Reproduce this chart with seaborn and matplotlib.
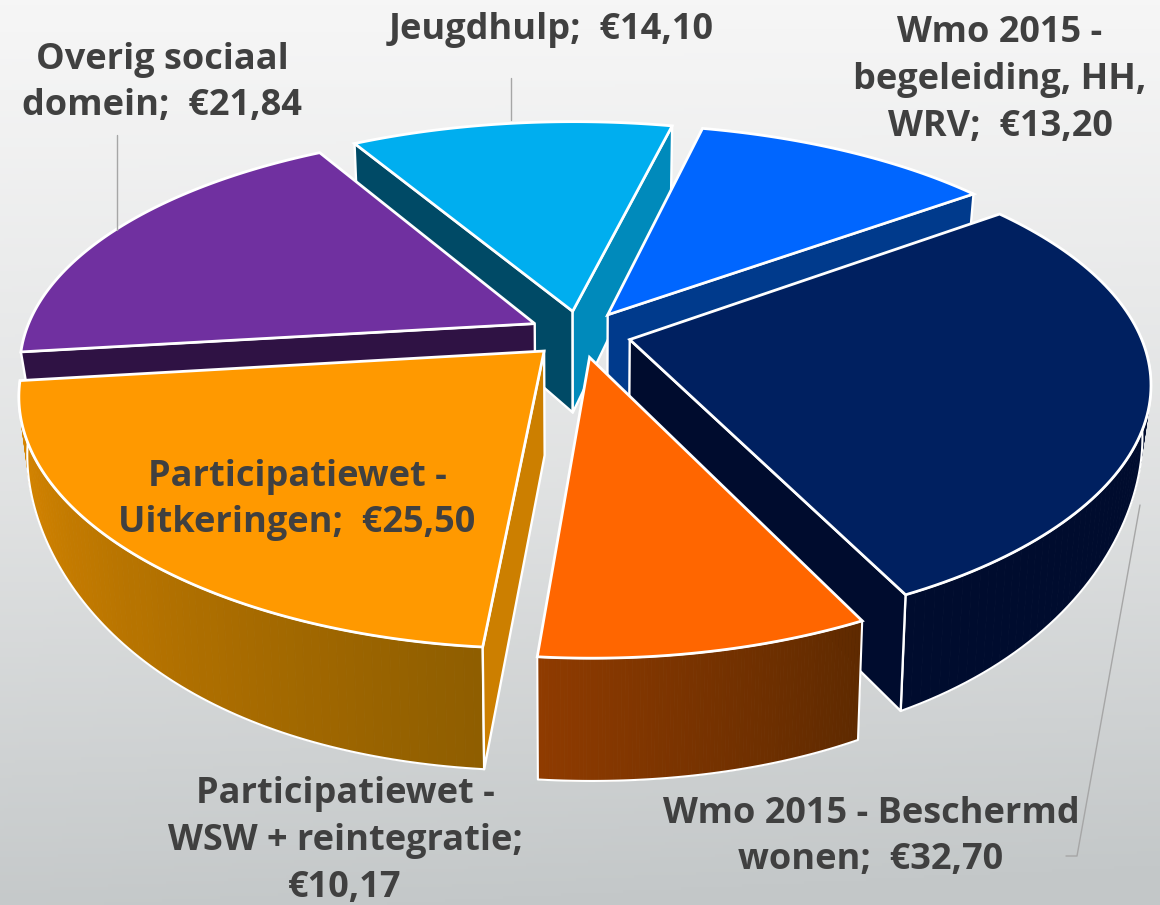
import numpy as np
import matplotlib
matplotlib.use("Agg")
import matplotlib.pyplot as plt
from matplotlib.patches import Polygon
import seaborn as sns

# waarden per onderdeel, met de klok mee vanaf Jeugdhulp
namen = ["Jeugdhulp", "Wmo begeleiding", "Beschermd wonen", "WSW", "Uitkeringen", "Overig"]
waarden = [14.10, 13.20, 32.70, 10.17, 25.50, 21.84]
label_teksten = [
    "Jeugdhulp;  €{}",
    "Wmo 2015 -\nbegeleiding, HH,\nWRV;  €{}",
    "Wmo 2015 - Beschermd\nwonen;  €{}",
    "Participatiewet -\nWSW + reintegratie;\n€{}",
    "Participatiewet -\nUitkeringen;  €{}",
    "Overig sociaal\ndomein;  €{}",
]
label_x = [551, 1000, 871, 345, 297, 162]
label_y = [30, 80, 837, 841, 500, 83]

kleur_boven = ["#00AEEF", "#0066FF", "#002060", "#FF6600", "#FF9900", "#7030A0"]
kleur_wand_start = ["#004A66", "#003A8C", "#000C2E", "#8F3B00", "#CC7F00", "#2F1244"]
kleur_wand_eind = ["#008ABB", "#003A8C", "#000C2E", "#5F2A00", "#CC7F00", "#2F1244"]
kleur_rand_links = ["#008ABB", "#003A8C", "#000C2E", "#8F3B00", "#E08A00", "#2F1244"]
kleur_rand_rechts = ["#004A66", "#003A8C", "#000C2E", "#5F2A00", "#8F5E00", "#2F1244"]

# achter naar voor tekenen
volgorde = [0, 1, 5, 2, 4, 3]

# projectie van de schuine taart
START = 120.0
CX, CY, R = 580.0, 334.0, 510.0
KANTEL, PERSP, PERSP_X = 0.458, 0.19, 0.17
EXPLODE = 0.10
WIT = "#FFFFFF"
TEKST = "#404040"


def projecteer(x, y):
    return CX + R * x / (1 + PERSP_X * y), CY - R * KANTEL * y / (1 + PERSP * y)


def boven(x, y):
    return np.column_stack(projecteer(x, y))


def onder(x, y):
    px, py = projecteer(x, y)
    dikte = 103 - 18 * y - 40 * x ** 4
    return np.column_stack((CX + (px - CX) * 0.985, py + dikte))


def wand(ax, x, y, kleur):
    hoeken = np.vstack((boven(x, y), onder(x, y)[::-1]))
    ax.add_patch(Polygon(hoeken, closed=True, facecolor=kleur, edgecolor=WIT, lw=1.7, joinstyle="round"))


sns.set_theme(style="white")
plt.rcParams["font.family"] = ["Open Sans", "DejaVu Sans"]

fig = plt.figure(figsize=(11.6, 9.05), dpi=100)
ax = fig.add_axes([0, 0, 1, 1])

# achtergrond: licht boven, grijs onder, rechts iets donkerder
yy, xx = np.mgrid[0:1:300j, 0:1:300j]
grijs = np.interp(yy, [0, 0.15, 0.55, 1], [1.0, 0.9, 0.58, 0.05]) - 0.08 * xx * yy
achtergrond = sns.blend_palette(["#C3C7C8", "#F6F6F6"], as_cmap=True)
ax.imshow(grijs, cmap=achtergrond, vmin=0, vmax=1, extent=(0, 1160, 905, 0), aspect="auto", zorder=0)

hoeken = START - np.cumsum([0] + waarden) / sum(waarden) * 360

for i in volgorde:
    a0, a1 = hoeken[i], hoeken[i + 1]
    mid = np.radians((a0 + a1) / 2)
    ox, oy = EXPLODE * np.cos(mid), EXPLODE * np.sin(mid)

    boog = np.radians(np.linspace(a0, a1, 90))
    bx, by = ox + np.cos(boog), oy + np.sin(boog)

    # buitenrand met verloop, alleen het voorste stuk
    voor = np.sin(boog) < 0.02
    if voor.sum() > 12:
        vx, vy = bx[voor], by[voor]
        if boven(vx, vy)[0, 0] > boven(vx, vy)[-1, 0]:
            vx, vy = vx[::-1], vy[::-1]
        tinten = sns.blend_palette([kleur_rand_links[i], kleur_rand_rechts[i]], len(vx) - 1)
        for j, tint in enumerate(tinten):
            stuk = np.vstack((boven(vx[j:j + 2], vy[j:j + 2]), onder(vx[j:j + 2], vy[j:j + 2])[::-1]))
            ax.add_patch(Polygon(stuk, closed=True, facecolor=tint, edgecolor=tint, lw=0.6))
        omtrek = np.vstack((boven(vx, vy), onder(vx, vy)[::-1]))
        ax.add_patch(Polygon(omtrek, closed=True, fill=False, edgecolor=WIT, lw=1.5, joinstyle="round"))

    # zijwanden die naar de kijker staan
    if np.cos(np.radians(a0)) < 0:
        wand(ax, np.array([ox, bx[0]]), np.array([oy, by[0]]), kleur_wand_start[i])
    if np.cos(np.radians(a1)) > 0:
        wand(ax, np.array([ox, bx[-1]]), np.array([oy, by[-1]]), kleur_wand_eind[i])

    # bovenvlak
    tx = np.concatenate(([ox], bx))
    ty = np.concatenate(([oy], by))
    ax.add_patch(Polygon(boven(tx, ty), closed=True, facecolor=kleur_boven[i], edgecolor=WIT, lw=2.0, joinstyle="miter"))

# aanwijslijntjes
lijn_x = [[511, 511], [117, 117], [1140, 1077, 1066]]
lijn_y = [[78, 120], [135, 230], [505, 856, 856]]
for lx, ly in zip(lijn_x, lijn_y):
    sns.lineplot(x=lx, y=ly, sort=False, estimator=None, color="#A6A6A6", lw=1, ax=ax)

for tekst, waarde, x, y in zip(label_teksten, waarden, label_x, label_y):
    ax.text(x, y, tekst.format(f"{waarde:.2f}".replace(".", ",")), ha="center", va="center",
            fontsize=26, fontweight="bold", color=TEKST, linespacing=1.4)

ax.set_xlim(0, 1160)
ax.set_ylim(905, 0)
ax.axis("off")
sns.despine(ax=ax, left=True, bottom=True)

fig.savefig("out.png", dpi=100)
